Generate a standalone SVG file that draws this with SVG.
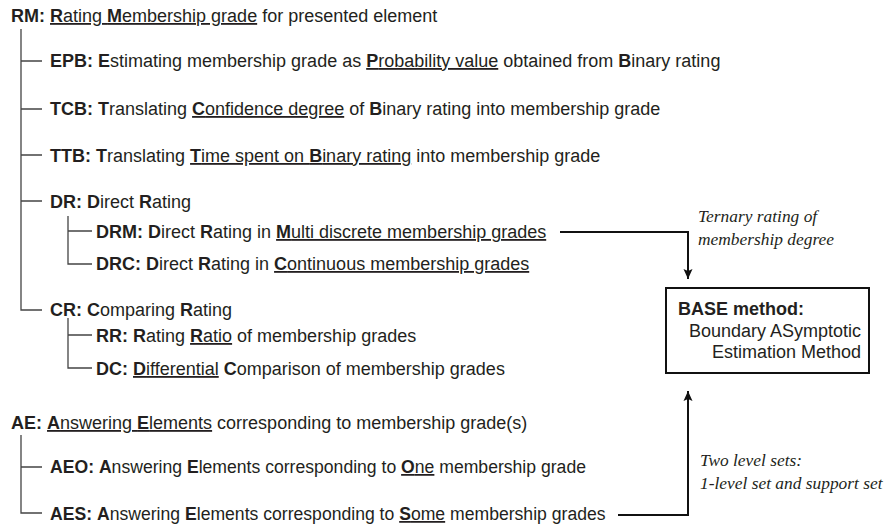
<svg xmlns="http://www.w3.org/2000/svg" width="887" height="524" viewBox="0 0 887 524">
<defs>
<style>
.t{font-family:"Liberation Sans",Arial,sans-serif;font-size:18px;fill:#231f20}
.s{font-size:17.6px}
.b{font-weight:bold}
.u{text-decoration:underline}
.i{font-family:"Liberation Serif","Times New Roman",serif;font-style:italic;font-size:17.4px;fill:#231f20}
.tree{stroke:#444;stroke-width:1.3;fill:none}
.conn{stroke:#111;stroke-width:2;fill:none}
</style>
<marker id="ah" viewBox="0 0 10 10" refX="10" refY="5" markerWidth="5" markerHeight="5" orient="auto" markerUnits="strokeWidth">
<path d="M0,0.5 L10,5 L0,9.5 L2,5 z" fill="#111"/>
</marker>
</defs>
<rect width="887" height="524" fill="#fff"/>
<g id="tree-lines" class="tree">
<path d="M21,29 V310 H42"/>
<path d="M21,61 H42 M21,109 H42 M21,155 H42 M21,201 H42"/>
<path d="M68,216 V264 H92 M68,231 H92"/>
<path d="M68,318 V368 H92 M68,335 H92"/>
<path d="M21,435 V513 H42 M21,467 H42"/>
</g>
<g id="connectors" class="conn">
<path d="M560,232 H688 V279" marker-end="url(#ah)"/>
<path d="M618,515 H688 V391" marker-end="url(#ah)"/>
</g>
<g id="RM"><text class="t" x="11" y="22"><tspan class="b">RM:</tspan> <tspan class="u"><tspan class="b">R</tspan>ating <tspan class="b">M</tspan>embership grade</tspan> for presented element</text></g>
<g id="EPB"><text class="t" x="50" y="67"><tspan class="b">EPB:</tspan> <tspan class="b">E</tspan>stimating membership grade as <tspan class="u"><tspan class="b">P</tspan>robability value</tspan> obtained from <tspan class="b">B</tspan>inary rating</text></g>
<g id="TCB"><text class="t" x="50" y="115"><tspan class="b">TCB:</tspan> <tspan class="b">T</tspan>ranslating <tspan class="u"><tspan class="b">C</tspan>onfidence degree</tspan> of <tspan class="b">B</tspan>inary rating into membership grade</text></g>
<g id="TTB"><text class="t" x="50" y="162"><tspan class="b">TTB:</tspan> <tspan class="b">T</tspan>ranslating <tspan class="u"><tspan class="b">T</tspan>ime spent on <tspan class="b">B</tspan>inary rating</tspan> into membership grade</text></g>
<g id="DR"><text class="t" x="50" y="208"><tspan class="b">DR:</tspan> <tspan class="b">D</tspan>irect <tspan class="b">R</tspan>ating</text></g>
<g id="DRM"><text class="t" x="96" y="238"><tspan class="b">DRM:</tspan> <tspan class="b">D</tspan>irect <tspan class="b">R</tspan>ating in <tspan class="u"><tspan class="b">M</tspan>ulti discrete membership grades</tspan></text></g>
<g id="DRC"><text class="t" x="96" y="270"><tspan class="b">DRC:</tspan> <tspan class="b">D</tspan>irect <tspan class="b">R</tspan>ating in <tspan class="u"><tspan class="b">C</tspan>ontinuous membership grades</tspan></text></g>
<g id="CR"><text class="t" x="50" y="316"><tspan class="b">CR:</tspan> <tspan class="b">C</tspan>omparing <tspan class="b">R</tspan>ating</text></g>
<g id="RR"><text class="t" x="96" y="342"><tspan class="b">RR:</tspan> <tspan class="b">R</tspan>ating <tspan class="u"><tspan class="b">R</tspan>atio</tspan> of membership grades</text></g>
<g id="DC"><text class="t" x="96" y="375"><tspan class="b">DC:</tspan> <tspan class="u"><tspan class="b">D</tspan>ifferential</tspan> <tspan class="b">C</tspan>omparison of membership grades</text></g>
<g id="AE"><text class="t" x="11" y="429"><tspan class="b">AE:</tspan> <tspan class="u"><tspan class="b">A</tspan>nswering <tspan class="b">E</tspan>lements</tspan> corresponding to membership grade(s)</text></g>
<g id="AEO"><text class="t s" x="50" y="473"><tspan class="b">AEO:</tspan> <tspan class="b">A</tspan>nswering <tspan class="b">E</tspan>lements corresponding to <tspan class="u"><tspan class="b">O</tspan>ne</tspan> membership grade</text></g>
<g id="AES"><text class="t s" x="50" y="520"><tspan class="b">AES:</tspan> <tspan class="b">A</tspan>nswering <tspan class="b">E</tspan>lements corresponding to <tspan class="u"><tspan class="b">S</tspan>ome</tspan> membership grades</text></g>
<g id="BASE">
<rect x="666" y="288" width="203" height="85" fill="#fff" stroke="#111" stroke-width="2"/>
<text class="t b" x="678" y="315">BASE method:</text>
<text class="t" x="861" y="337" text-anchor="end">Boundary ASymptotic</text>
<text class="t" x="861" y="358" text-anchor="end">Estimation Method</text>
</g>
<g id="label-ternary"><text class="i" x="698" y="222">Ternary rating of</text><text class="i" x="698" y="245">membership degree</text></g>
<g id="label-two"><text class="i" x="700" y="466">Two level sets:</text><text class="i" x="700" y="489">1-level set and support set</text></g>
</svg>
